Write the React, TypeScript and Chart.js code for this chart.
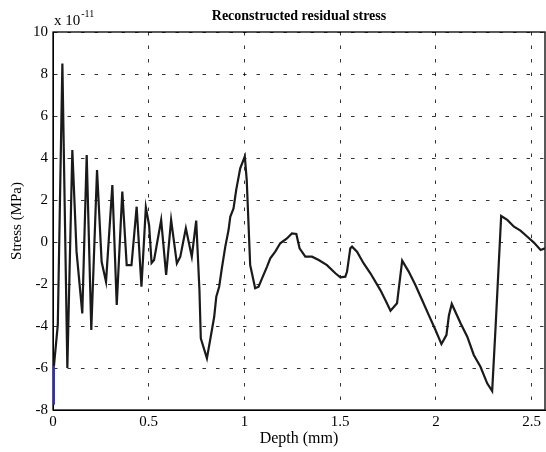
import React, { useEffect, useRef } from "react";
import { Chart, registerables } from "chart.js";

Chart.register(...registerables);

const depth: number[] = [
  0.005, 0.025, 0.049, 0.075, 0.101, 0.123, 0.153, 0.176, 0.2, 0.23, 0.254, 0.277,
  0.31, 0.333, 0.362, 0.385, 0.41, 0.437, 0.462, 0.485, 0.502, 0.515, 0.528, 0.565,
  0.591, 0.617, 0.647, 0.665, 0.694, 0.725, 0.748, 0.765, 0.772, 0.804, 0.83, 0.842,
  0.853, 0.868, 0.882, 0.9, 0.917, 0.926, 0.943, 0.957, 0.978, 1.002, 1.012, 1.03,
  1.056, 1.074, 1.092, 1.118, 1.135, 1.161, 1.187, 1.222, 1.248, 1.271, 1.288, 1.318,
  1.353, 1.388, 1.431, 1.475, 1.501, 1.527, 1.536, 1.553, 1.562, 1.588, 1.623, 1.658,
  1.71, 1.736, 1.763, 1.797, 1.824, 1.858, 1.893, 1.928, 1.963, 1.998, 2.029, 2.055,
  2.068, 2.083, 2.129, 2.164, 2.198, 2.233, 2.268, 2.294, 2.312, 2.341, 2.373, 2.408,
  2.442, 2.478, 2.512, 2.547, 2.57,
];

const stress: number[] = [
  -5.9, -3.95, 8.5, -6.0, 4.38, -0.46, -3.4, 4.14, -4.19, 3.43, -0.94, -1.89,
  2.71, -3.0, 2.4, -1.1, -1.1, 1.68, -2.13, 1.65, 0.8, -1.0, -0.86, 1.05,
  -1.57, 1.05, -1.02, -0.7, 0.65, -0.7, 1.02, -2.3, -4.59, -5.54, -4.19, -3.56,
  -2.6, -2.13, -1.25, -0.22, 0.57, 1.2, 1.6, 2.48, 3.51, 4.08, 2.95, -1.1,
  -2.2, -2.13, -1.73, -1.17, -0.78, -0.46, -0.06, 0.17, 0.41, 0.38, -0.3, -0.7,
  -0.7, -0.86, -1.1, -1.49, -1.68, -1.65, -1.41, -0.3, -0.22, -0.46, -1.02, -1.49,
  -2.29, -2.76, -3.27, -2.92, -0.89, -1.41, -2.05, -2.76, -3.48, -4.19, -4.86, -4.43,
  -3.5, -2.95, -3.87, -4.51, -5.38, -5.94, -6.73, -7.1, -4.03, 1.24, 1.05, 0.73,
  0.54, 0.25, -0.03, -0.38, -0.3,
];

const startDepth: number[] = [0.001, 0.005];
const startStress: number[] = [-7.7, -5.9];

const xTicks: number[] = [0, 0.5, 1, 1.5, 2, 2.5];
const yTicks: number[] = [-8, -6, -4, -2, 0, 2, 4, 6, 8, 10];

const titleText = "Reconstructed residual stress";
const xLabel = "Depth (mm)";
const yLabel = "Stress (MPa)";
const expBase = "x 10";
const expPower = "-11";

const SERIF = '"Liberation Serif", "DejaVu Serif", serif';

export default function App() {
  const ref = useRef<HTMLCanvasElement | null>(null);

  useEffect(() => {
    if (!ref.current) return;
    const framePlugin = {
      id: "framePlugin",
      beforeDatasetsDraw(chart: any) {
        const { ctx, chartArea } = chart;
        const { left, right, top, bottom } = chartArea;
        ctx.save();
        ctx.strokeStyle = "#000";
        ctx.lineWidth = 1.3;
        ctx.strokeRect(left, top, right - left, bottom - top);
        ctx.restore();
      },
      afterDraw(chart: any) {
        const { ctx, chartArea } = chart;
        const { left, right } = chartArea;
        ctx.save();
        ctx.fillStyle = "#000";
        ctx.font = `bold 14px ${SERIF}`;
        ctx.textAlign = "center";
        ctx.textBaseline = "middle";
        ctx.fillText(titleText, (left + right) / 2, 16);
        ctx.font = `15px ${SERIF}`;
        ctx.textAlign = "left";
        ctx.textBaseline = "alphabetic";
        ctx.fillText(expBase, 54, 25);
        const w = ctx.measureText(expBase).width;
        ctx.font = `10px ${SERIF}`;
        ctx.fillText(expPower, 54 + w + 1, 17);
        ctx.restore();
      },
    };

    const chart = new Chart(ref.current, {
      type: "line",
      data: {
        datasets: [
          {
            data: depth.map((d, i) => ({ x: d, y: stress[i] })),
            borderColor: "#1a1a1a",
            borderWidth: 2.2,
            pointRadius: 0,
            tension: 0,
          },
          {
            data: startDepth.map((d, i) => ({ x: d, y: startStress[i] })),
            borderColor: "#2a2ad0",
            borderWidth: 2,
            pointRadius: 0,
            tension: 0,
          },
        ],
      },
      options: {
        responsive: false,
        animation: false,
        layout: { padding: { top: 32, right: 1, left: 0, bottom: 0 } },
        plugins: {
          legend: { display: false },
          tooltip: { enabled: false },
          title: { display: false },
        },
        scales: {
          x: {
            type: "linear",
            min: 0,
            max: 2.57,
            afterFit: (s: any) => {
              s.height = 42;
            },
            afterBuildTicks: (s: any) => {
              s.ticks = xTicks.map((v) => ({ value: v }));
            },
            ticks: {
              color: "#000",
              font: { family: SERIF, size: 15 },
              padding: 3,
              maxRotation: 0,
              callback: (v: any) => String(v),
            },
            grid: { color: "rgba(0,0,0,0.8)", lineWidth: 1, drawTicks: false },
            border: { display: true, color: "#000", width: 1, dash: [3.5, 10] },
            title: {
              display: true,
              text: xLabel,
              color: "#000",
              font: { family: SERIF, size: 16 },
              padding: { top: 0, bottom: 4 },
            },
          },
          y: {
            type: "linear",
            min: -8,
            max: 10,
            afterFit: (s: any) => {
              s.width = 53;
            },
            afterBuildTicks: (s: any) => {
              s.ticks = yTicks.map((v) => ({ value: v }));
            },
            ticks: {
              color: "#000",
              font: { family: SERIF, size: 15 },
              padding: 5,
              callback: (v: any) => String(v),
            },
            grid: { color: "rgba(0,0,0,0.8)", lineWidth: 1, drawTicks: false },
            border: { display: true, color: "#000", width: 1, dash: [3.5, 10] },
            title: {
              display: true,
              text: yLabel,
              color: "#000",
              font: { family: SERIF, size: 15 },
              padding: { top: 8, bottom: 0 },
            },
          },
        },
      },
      plugins: [framePlugin],
    });
    return () => chart.destroy();
  }, []);

  return (
    <canvas
      ref={ref}
      width={546}
      height={452}
      style={{ position: "absolute", left: 0, top: 0, display: "block", background: "#fff" }}
    />
  );
}
